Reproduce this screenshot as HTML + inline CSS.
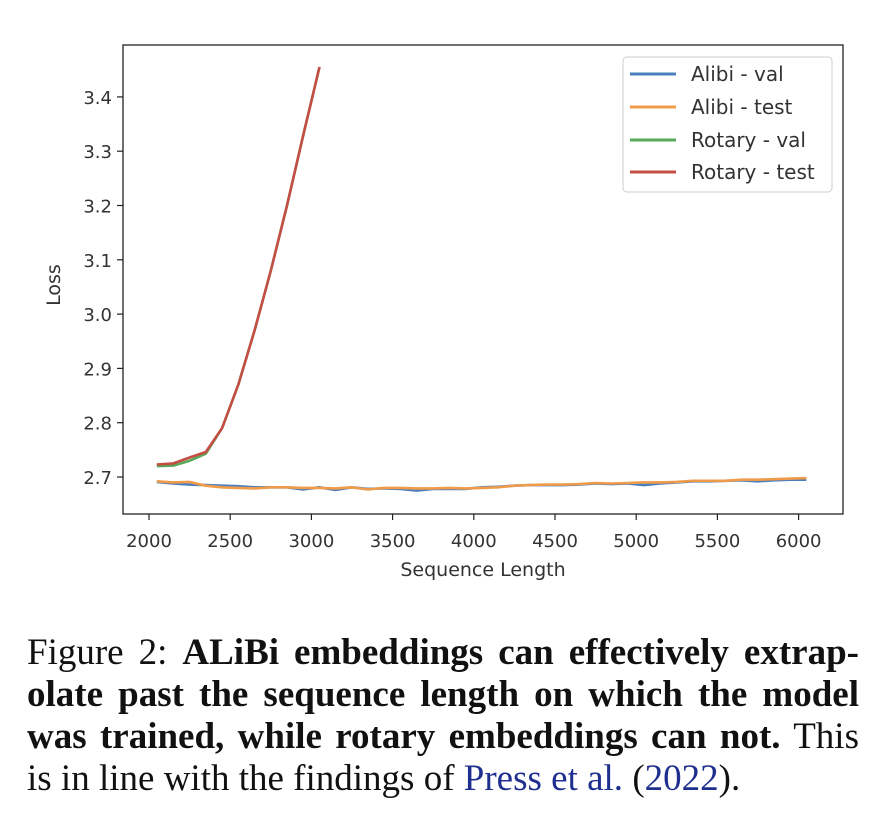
<!DOCTYPE html>
<html><head><meta charset="utf-8"><style>
body{margin:0;width:896px;height:834px;background:#fff;position:relative;overflow:hidden}
.cap{position:absolute;left:27px;width:832px;font-family:"Liberation Serif",serif;font-size:37px;color:#111;white-space:nowrap;text-align:justify;text-align-last:justify;line-height:42px}
.cap.last{text-align-last:left}
b{font-weight:bold}
.blue{color:#1f2f8f}
</style></head><body>
<svg width="896" height="600" style="position:absolute;left:0;top:0" font-family="DejaVu Sans, Liberation Sans, sans-serif">
<rect x="123" y="45" width="720" height="469" fill="none" stroke="#222" stroke-width="1.3"/>
<g id="ticks" stroke="#222" stroke-width="1.2"></g>
<g id="labels" font-size="18" fill="#333"></g>
<text x="483" y="576" font-size="19" fill="#333" text-anchor="middle">Sequence Length</text>
<text transform="translate(60,285) rotate(-90)" font-size="19" fill="#333" text-anchor="middle">Loss</text>
<g id="lines" fill="none" stroke-width="2.6" stroke-linejoin="round"></g>
<rect x="623" y="57" width="209" height="135" rx="4" fill="#fff" fill-opacity="0.85" stroke="#ccc"/>
<g stroke-width="3">
<line x1="630" y1="74" x2="676" y2="74" stroke="#4a7fbf"/>
<line x1="630" y1="107" x2="676" y2="107" stroke="#ef9b4a"/>
<line x1="630" y1="140" x2="676" y2="140" stroke="#58a85a"/>
<line x1="630" y1="172" x2="676" y2="172" stroke="#c44e43"/>
</g>
<g font-size="20" fill="#333">
<text x="691" y="81">Alibi - val</text>
<text x="691" y="114">Alibi - test</text>
<text x="691" y="147">Rotary - val</text>
<text x="691" y="179">Rotary - test</text>
</g>
</svg>
<script>
var X=v=>149+(v-2000)*0.1624, Y=v=>477-(v-2.7)*543;
var t=document.getElementById('ticks'),l=document.getElementById('labels'),ns='http://www.w3.org/2000/svg';
function el(p,n,a,txt){var e=document.createElementNS(ns,n);for(var k in a)e.setAttribute(k,a[k]);if(txt)e.textContent=txt;p.appendChild(e);}
for(var v=2000;v<=6000;v+=500){el(t,'line',{x1:X(v),x2:X(v),y1:514,y2:520});el(l,'text',{x:X(v),y:547,'text-anchor':'middle'},''+v);}
for(var i=7;i<=14;i++){var y=Y(i/10+2);el(t,'line',{x1:117,x2:123,y1:y,y2:y});el(l,'text',{x:112,y:y+7,'text-anchor':'end'},(2+i/10).toFixed(1));}
var g=document.getElementById('lines');
function path(pts,c){el(g,'path',{d:'M'+pts.map(p=>X(p[0]).toFixed(1)+','+Y(p[1]).toFixed(1)).join('L'),stroke:c});}
var xs=[];for(var v=2048;v<=6050;v+=100)xs.push(v);
var av=[2.691,2.688,2.686,2.685,2.684,2.683,2.681,2.681,2.681,2.677,2.681,2.676,2.681,2.678,2.679,2.678,2.675,2.678,2.678,2.678,2.681,2.682,2.684,2.685,2.685,2.685,2.686,2.688,2.687,2.688,2.685,2.688,2.690,2.692,2.692,2.693,2.694,2.692,2.694,2.695,2.695];
var at=[2.692,2.690,2.691,2.684,2.681,2.680,2.679,2.681,2.681,2.680,2.680,2.679,2.681,2.677,2.680,2.680,2.679,2.679,2.680,2.679,2.680,2.681,2.684,2.685,2.686,2.686,2.687,2.689,2.688,2.689,2.690,2.690,2.691,2.693,2.693,2.693,2.695,2.695,2.696,2.697,2.698];
path(xs.map((x,i)=>[x,av[i]]),'#4a7fbf');
path(xs.map((x,i)=>[x,at[i]]),'#ef9b4a');
var rx=[2048,2150,2250,2350,2450,2550,2650,2750,2850,2950,3050];
var rv=[2.720,2.721,2.730,2.743,2.79,2.87,2.97,3.08,3.2,3.33,3.455];
var rt=[2.723,2.725,2.736,2.746,2.79,2.87,2.97,3.08,3.2,3.33,3.455];
path(rx.map((x,i)=>[x,rv[i]]),'#58a85a');
path(rx.map((x,i)=>[x,rt[i]]),'#c44e43');
</script>
<div class="cap" style="top:632px">Figure 2: <b>ALiBi embeddings can effectively extrap-</b></div>
<div class="cap" style="top:674px"><b>olate past the sequence length on which the model</b></div>
<div class="cap" style="top:716px"><b>was trained, while rotary embeddings can not.</b> This</div>
<div class="cap last" style="top:758px">is in line with the findings of <span class="blue">Press et al.</span> (<span class="blue">2022</span>).</div>
</body></html>
